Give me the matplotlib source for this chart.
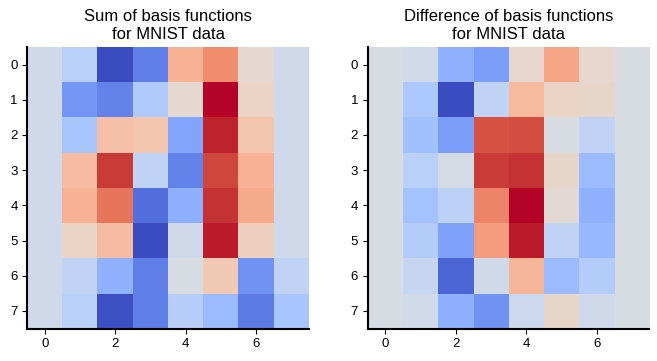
import numpy as np
import matplotlib.pyplot as plt

plt.rcParams['font.family'] = ['Liberation Sans', 'DejaVu Sans']

# valori normalizate (0 = albastru inchis, 1 = rosu inchis)
sum_basis = [
    [0.45, 0.38, 0.00, 0.12, 0.68, 0.78, 0.53, 0.45],
    [0.45, 0.18, 0.13, 0.35, 0.53, 1.00, 0.56, 0.45],
    [0.45, 0.33, 0.64, 0.62, 0.22, 0.97, 0.62, 0.45],
    [0.45, 0.65, 0.94, 0.40, 0.13, 0.92, 0.68, 0.45],
    [0.45, 0.68, 0.83, 0.08, 0.25, 0.95, 0.70, 0.45],
    [0.45, 0.56, 0.65, 0.00, 0.45, 0.98, 0.58, 0.45],
    [0.45, 0.40, 0.26, 0.12, 0.48, 0.60, 0.17, 0.40],
    [0.45, 0.38, 0.01, 0.12, 0.37, 0.29, 0.11, 0.33],
]
diff_basis = [
    [0.48, 0.46, 0.26, 0.20, 0.54, 0.72, 0.54, 0.48],
    [0.48, 0.34, 0.00, 0.40, 0.66, 0.56, 0.55, 0.48],
    [0.48, 0.31, 0.20, 0.90, 0.91, 0.48, 0.40, 0.48],
    [0.48, 0.38, 0.47, 0.94, 0.95, 0.55, 0.29, 0.48],
    [0.48, 0.32, 0.39, 0.80, 1.00, 0.52, 0.26, 0.48],
    [0.48, 0.36, 0.21, 0.74, 0.98, 0.40, 0.28, 0.48],
    [0.48, 0.42, 0.06, 0.45, 0.67, 0.29, 0.36, 0.48],
    [0.48, 0.46, 0.25, 0.17, 0.44, 0.55, 0.45, 0.48],
]
titles = ["Sum of basis functions\nfor MNIST data",
          "Difference of basis functions\nfor MNIST data"]

fig, axes = plt.subplots(1, 2, figsize=(6.57, 3.61), dpi=100)
for ax, data, title in zip(axes, [sum_basis, diff_basis], titles):
    ax.imshow(np.array(data), cmap="coolwarm", vmin=0, vmax=1)
    ax.set_title(title, fontsize=12)
    ax.spines[["top", "right"]].set_visible(False)
    for s in ["left", "bottom"]:
        ax.spines[s].set_linewidth(1.5)
    ax.set_yticks(range(8))
    ax.set_xticks([0, 2, 4, 6])
    ax.tick_params(labelsize=9.5)

plt.subplots_adjust(left=0.04, right=0.99, top=0.87, bottom=0.09, wspace=0.2)
plt.savefig("out.png", dpi=100)
